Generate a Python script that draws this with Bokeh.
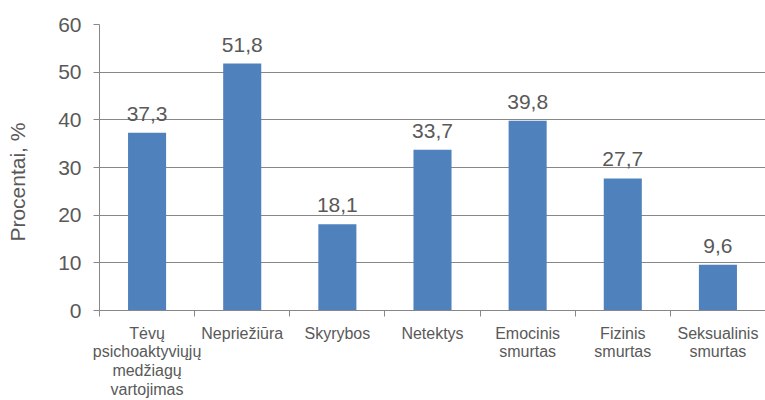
from bokeh.plotting import figure
from bokeh.models import ColumnDataSource, Range1d, FixedTicker
from bokeh.core.properties import value
from bokeh.embed import file_html
from bokeh.resources import INLINE

categories = [
    "Tėvų\npsichoaktyviųjų\nmedžiagų\nvartojimas",
    "Nepriežiūra",
    "Skyrybos",
    "Netektys",
    "Emocinis\nsmurtas",
    "Fizinis\nsmurtas",
    "Seksualinis\nsmurtas",
]
values = [37.3, 51.8, 18.1, 33.7, 39.8, 27.7, 9.6]
y_ticks = [0, 10, 20, 30, 40, 50, 60]
y_title = "Procentai, %"

FONT = "Liberation Sans"
TXT = "#595959"
GRID = "#878787"
BAR = "#4F81BD"

n = len(categories)
xs = [i + 0.5 for i in range(n)]
labels = [f"{v:.1f}".replace(".", ",") for v in values]
src = ColumnDataSource(dict(x=xs, top=values, label=labels))

p = figure(width=765, height=400, output_backend="svg", toolbar_location=None,
           x_range=Range1d(0, n), y_range=Range1d(0, 60),
           min_border_left=99, min_border_right=0, min_border_top=24, min_border_bottom=88)
p.outline_line_color = None
p.background_fill_color = "white"

p.vbar(x="x", top="top", bottom=0, width=0.4, source=src, fill_color=BAR, line_color=None)
p.text(x="x", y="top", text="label", source=src, text_align="center", text_baseline="alphabetic",
       y_offset=-19, text_font=value(FONT), text_font_size="21px", text_color=TXT)

# x axis
xa = p.xaxis[0]
xa.ticker = FixedTicker(ticks=xs, minor_ticks=list(range(n + 1)))
xa.major_label_overrides = {x: c for x, c in zip(xs, categories)}
xa.major_tick_out = 0
xa.major_tick_in = 0
xa.minor_tick_out = 6
xa.minor_tick_in = 0
xa.minor_tick_line_color = GRID
xa.axis_line_color = GRID
xa.major_label_text_font = FONT
xa.major_label_text_font_size = "16px"
xa.major_label_text_line_height = 1.1
xa.major_label_text_color = TXT
xa.major_label_standoff = 8
p.xgrid.grid_line_color = None

# y axis
ya = p.yaxis[0]
ya.ticker = FixedTicker(ticks=y_ticks)
ya.minor_tick_line_color = None
ya.major_tick_out = 6
ya.major_tick_in = 0
ya.major_tick_line_color = GRID
ya.axis_line_color = GRID
ya.major_label_text_font = FONT
ya.major_label_text_font_size = "21px"
ya.major_label_text_color = TXT
ya.major_label_standoff = 12
ya.axis_label = y_title + "\u00a0" * 5
ya.axis_label_text_font = FONT
ya.axis_label_text_font_size = "21px"
ya.axis_label_text_font_style = "normal"
ya.axis_label_text_color = TXT
ya.axis_label_standoff = 26
p.ygrid.grid_line_color = GRID
p.ygrid.grid_line_width = 1

open("out.html", "w").write(file_html(p, INLINE))
